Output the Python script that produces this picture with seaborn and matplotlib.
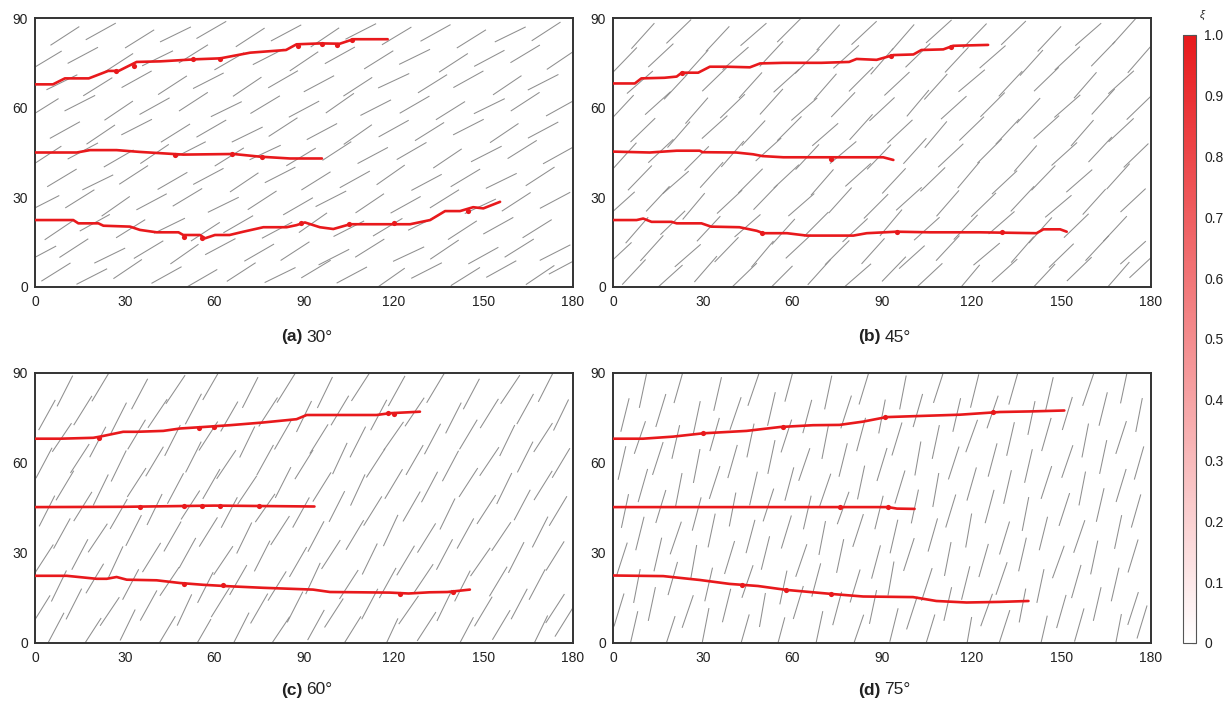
import numpy as np
import pandas as pd
import matplotlib
matplotlib.use("Agg")
import matplotlib.pyplot as plt
import seaborn as sns
from matplotlib.colors import LinearSegmentedColormap, Normalize
from matplotlib.cm import ScalarMappable
from matplotlib.collections import LineCollection

sns.set_theme(style="white")
plt.rcParams["font.family"] = ["Liberation Sans", "DejaVu Sans"]

# ---------------- data ----------------
PANEL_LABELS = ["(a)", "(b)", "(c)", "(d)"]
PANEL_ANGLES = [30, 45, 60, 75]
X_TICKS = [0, 30, 60, 90, 120, 150, 180]
Y_TICKS = [0, 30, 60, 90]
CBAR_TICKS = [0, 0.1, 0.2, 0.3, 0.4, 0.5, 0.6, 0.7, 0.8, 0.9, 1.0]
CBAR_LABELS = ["0", "0.1", "0.2", "0.3", "0.4", "0.5", "0.6", "0.7", "0.8", "0.9", "1.0"]
FRACTURE_LENGTH = 11.5

# natural fractures: centre x, centre y, angle deviation (deg)
FRACTURES = [
    (7, 5, 2), (19, 3.5, -3), (31, 6, 4), (44, 4, -1), (56, 3, 0), (69, 5, 3), (82, 4, -4), (94, 6, 1),
    (106, 4, -2), (119, 3, 5), (131, 5.5, -3), (144, 3.5, 2), (156, 6, -1), (169, 4, 4), (177, 7, -2),
    (2, 11, -2), (13, 13, 3), (25, 10.5, -4), (38, 12.5, 1), (50, 11, 5), (62, 13.5, -2), (75, 11.5, 0),
    (87, 12, 3), (100, 10, -3), (112, 13, 2), (125, 11, -5), (137, 12.5, 4), (150, 10.5, -1), (162, 13, 2),
    (174, 11.5, -3),
    (8, 19, 4), (20, 21.5, -1), (32, 19.5, 2), (45, 20.5, -4), (57, 18.5, 3), (68, 21, 0), (81, 19, -2),
    (93, 21.5, 5), (105, 19.5, -3), (118, 20, 1), (130, 21.5, -4), (143, 19, 3), (155, 20.5, -1),
    (168, 19.5, 2),
    (3, 28, -3), (15, 29.5, 2), (27, 27, 5), (39, 28.5, -2), (51, 30, 1), (63, 27.5, -4), (76, 29, 3),
    (88, 27, 0), (99, 29.5, -3), (112, 28, 4), (124, 27.5, -1), (137, 29.5, 2), (149, 27, -5),
    (161, 28.5, 3), (174, 29, -2),
    (9, 36.5, 1), (21, 35, -4), (33, 37.5, 3), (46, 35.5, 0), (58, 37, -2), (70, 35, 4), (82, 37.5, -3),
    (94, 35.5, 2), (107, 36, -1), (119, 37.5, 5), (131, 35, -2), (144, 36.5, 1), (156, 35.5, -4),
    (169, 37, 3),
    (4, 44, 3), (16, 45.5, -2), (28, 43, 0), (40, 44.5, 4), (52, 46, -3), (65, 43.5, 2), (77, 45, -5),
    (89, 43.5, 1), (101, 45.5, 3), (113, 44, -2), (126, 45.5, 0), (138, 43, 4), (151, 44.5, -3),
    (163, 46, 2), (175, 44, -1),
    (10, 52.5, -1), (22, 51, 4), (34, 53.5, -3), (47, 51.5, 2), (59, 53, 0), (71, 51, -4), (83, 53.5, 3),
    (96, 52, -2), (108, 51, 5), (120, 53, -1), (132, 52, 2), (145, 53.5, -3), (157, 51.5, 4),
    (170, 52.5, -2),
    (3, 60, 2), (15, 61.5, -3), (28, 59, 4), (40, 60.5, -1), (53, 62, 3), (64, 59.5, -4), (77, 61, 1),
    (90, 59.5, -2), (102, 61.5, 5), (114, 60, -3), (127, 61, 0), (139, 59, 2), (152, 60.5, -4),
    (164, 62, 3), (176, 60, -1),
    (9, 68.5, -4), (21, 67, 2), (34, 69.5, -1), (46, 67.5, 3), (58, 69, -3), (71, 67, 4), (83, 69.5, 0),
    (95, 68, -2), (108, 67, 3), (120, 69, -5), (133, 68, 2), (145, 69.5, -1), (158, 67.5, 4),
    (170, 68.5, -3),
    (4, 76, 1), (16, 77.5, -2), (28, 75, 3), (41, 76.5, -4), (53, 78, 2), (65, 75.5, 0), (78, 77, -3),
    (90, 75.5, 4), (102, 77.5, -1), (115, 76, 2), (127, 77, -4), (140, 75, 3), (152, 76.5, -2),
    (164, 78, 1), (176, 76, 4),
    (10, 84, 3), (22, 85.5, -1), (35, 83, 2), (47, 84.5, -4), (59, 86, 0), (72, 83.5, 3), (84, 85, -2),
    (97, 83.5, 4), (109, 85.5, -3), (121, 84, 1), (134, 85, -1), (146, 83, 2), (159, 84.5, -4),
    (171, 85.5, 3),
]

# crack paths (a) 30 deg
A_TOP_X = [0, 6, 10, 18, 24.5, 28, 34, 42, 54, 62, 72, 84, 87.5, 95.5, 102, 106.5, 118]
A_TOP_Y = [67.8, 67.8, 69.8, 69.8, 72.3, 72.3, 75.3, 75.5, 76.2, 76.5, 78.4, 79.3, 81.2, 81.5, 81.4, 82.9, 82.9]
A_MID_X = [0, 14, 18.4, 27.3, 35, 49.6, 66.4, 75.3, 85.3, 96]
A_MID_Y = [45.0, 45.0, 45.8, 45.8, 45.2, 44.3, 44.5, 43.6, 43.0, 43.0]
A_BOT_X = [0, 12.8, 14.5, 21.2, 22.9, 31.8, 35.1, 40.7, 48, 49.6, 55.2, 56.9, 60.2, 65.1, 69.7, 76.4,
           84.2, 87.5, 90.3, 95.3, 99.8, 105.4, 114.3, 125.5, 132.2, 137.2, 142.2, 146.6, 150, 155.6]
A_BOT_Y = [22.4, 22.4, 21.3, 21.3, 20.5, 20.2, 19.1, 18.3, 18.3, 17.4, 17.4, 16.3, 17.4, 17.4, 18.5, 20.0,
           20.0, 20.7, 21.6, 20.0, 19.4, 21.0, 21.0, 21.0, 22.4, 25.4, 25.4, 26.7, 26.3, 28.5]
# (b) 45 deg
B_TOP_X = [0, 7.3, 9.5, 17.2, 21.3, 23, 28.5, 32.4, 38, 45.8, 49.2, 57, 69.7, 79, 81.5, 88.2, 93.8,
           100.5, 103.2, 110.5, 113.8, 125.5]
B_TOP_Y = [68.1, 68.1, 69.8, 70.0, 70.4, 71.7, 71.7, 73.7, 73.7, 73.5, 74.8, 75.0, 75.0, 75.3, 76.3,
           76.0, 77.6, 77.8, 79.3, 79.5, 80.7, 81.0]
B_MID_X = [0, 12.3, 21.3, 29, 30, 41.2, 46.9, 50, 57, 90.4, 93.8]
B_MID_Y = [45.3, 45.0, 45.6, 45.6, 45.1, 45.0, 44.4, 43.8, 43.4, 43.4, 42.5]
B_BOT_X = [0, 7.9, 10.1, 12.9, 19.6, 21.3, 29.6, 32.8, 42.3, 48.1, 50.3, 58.2, 64.8, 80.4, 84.9,
           94.9, 106, 122.7, 141.7, 144, 149.6, 151.8]
B_BOT_Y = [22.4, 22.4, 22.9, 21.8, 21.8, 21.3, 21.3, 20.2, 20.0, 18.8, 18.0, 18.0, 17.2, 17.2, 18.0,
           18.5, 18.3, 18.3, 18.0, 19.3, 19.3, 18.5]
# (c) 60 deg
C_TOP_X = [0, 8.4, 19.5, 21.8, 29.5, 34, 42.9, 48.5, 56.3, 65.2, 76.3, 87.5, 90.9, 114.3, 118.7, 128.8]
C_TOP_Y = [68.1, 68.1, 68.4, 68.8, 70.4, 70.4, 70.7, 71.5, 72.0, 72.6, 73.5, 74.6, 76.0, 76.0, 76.6, 77.1]
C_MID_X = [0, 30, 60, 93.5]
C_MID_Y = [45.3, 45.4, 45.8, 45.5]
C_BOT_X = [0, 10.6, 20.6, 24, 27.3, 30.7, 40.7, 48.5, 56.3, 65.2, 76.3, 93, 98.7, 118.7, 125, 132, 138, 145.5]
C_BOT_Y = [22.4, 22.4, 21.4, 21.4, 22.0, 21.1, 20.9, 20.0, 19.4, 18.9, 18.4, 17.8, 17.0, 16.8, 16.5, 16.9, 17.0, 17.8]
# (d) 75 deg
D_TOP_X = [0, 10, 20.2, 30.2, 44.7, 55.9, 66.9, 75.8, 83.7, 91.5, 100.4, 116, 129.4, 140, 151]
D_TOP_Y = [68.1, 68.1, 68.8, 69.9, 70.7, 72.0, 72.6, 72.7, 73.8, 75.3, 75.6, 76.1, 77.0, 77.2, 77.5]
D_MID_X = [0, 60, 92, 95, 100.9]
D_MID_Y = [45.3, 45.3, 45.3, 44.8, 44.7]
D_BOT_X = [0, 16.8, 29.1, 39, 48.5, 58, 73.7, 83.7, 100.4, 108.2, 118.3, 129.4, 139]
D_BOT_Y = [22.5, 22.3, 21.0, 19.7, 19.0, 17.7, 16.3, 15.5, 15.3, 14.0, 13.5, 13.7, 14.0]

# damage blobs along the cracks
A_BLOBS = [(27, 72.3), (33, 74), (53, 76.2), (62, 76.3), (88, 80.5), (96, 81.3), (101, 81), (106, 82.5),
           (47, 44), (66, 44.5), (76, 43.5), (50, 16.8), (56, 16.5), (89, 21.5), (105, 21), (120, 21.5), (145, 25.5)]
B_BLOBS = [(23, 71.5), (93, 77.3), (113, 80.3), (73, 42.8), (50, 18.1), (95, 18.4), (130, 18.4)]
C_BLOBS = [(21.5, 68.5), (55, 71.8), (60, 72), (118, 76.8), (120, 76.5), (35, 45.4), (50, 45.6),
           (56, 45.7), (62, 45.7), (75, 45.7), (50, 19.8), (63, 19.3), (122, 16.5), (140, 17)]
D_BLOBS = [(30, 69.9), (57, 72), (91, 75.3), (127, 77), (76, 45.3), (92, 45.3), (43, 19.5), (58, 17.6), (73, 16.3)]

PATHS = [
    [(A_TOP_X, A_TOP_Y), (A_MID_X, A_MID_Y), (A_BOT_X, A_BOT_Y)],
    [(B_TOP_X, B_TOP_Y), (B_MID_X, B_MID_Y), (B_BOT_X, B_BOT_Y)],
    [(C_TOP_X, C_TOP_Y), (C_MID_X, C_MID_Y), (C_BOT_X, C_BOT_Y)],
    [(D_TOP_X, D_TOP_Y), (D_MID_X, D_MID_Y), (D_BOT_X, D_BOT_Y)],
]
BLOBS = [A_BLOBS, B_BLOBS, C_BLOBS, D_BLOBS]

# ---------------- style ----------------
RED = "#e8191c"
GRAY = "#8f8f8f"
TEXT = "#222222"
cmap = LinearSegmentedColormap.from_list("xi", ["#ffffff", RED])

W, H = 1225, 701
fig = plt.figure(figsize=(W / 100, H / 100), dpi=100)

AX_BOXES = [  # left, top, right, bottom in pixels
    (35, 18, 573, 287),
    (613, 18, 1151, 287),
    (35, 373, 573, 643),
    (613, 373, 1151, 643),
]
CAPTION_Y = [337, 337, 690, 690]

for i, (l, t, r, b) in enumerate(AX_BOXES):
    ax = fig.add_axes([l / W, 1 - b / H, (r - l) / W, (b - t) / H])
    ax.set_xlim(0, 180)
    ax.set_ylim(0, 90)
    # natural fractures
    segs = []
    for (cx, cy, d) in FRACTURES:
        th = np.radians(PANEL_ANGLES[i] + d)
        dx = FRACTURE_LENGTH / 2 * np.cos(th)
        dy = FRACTURE_LENGTH / 2 * np.sin(th)
        segs.append([(cx - dx, cy - dy), (cx + dx, cy + dy)])
    ax.add_collection(LineCollection(segs, colors=GRAY, linewidths=0.75, zorder=1))
    # crack paths
    for (px, py) in PATHS[i]:
        df = pd.DataFrame({"x": px, "y": py})
        sns.lineplot(data=df, x="x", y="y", sort=False, estimator=None, color=RED,
                     linewidth=1.9, ax=ax, zorder=3)
    bdf = pd.DataFrame(BLOBS[i], columns=["x", "y"])
    sns.scatterplot(data=bdf, x="x", y="y", color=RED, s=14, linewidth=0, ax=ax, zorder=4)
    ax.set_xlabel("")
    ax.set_ylabel("")
    ax.set_xticks(X_TICKS)
    ax.set_yticks(Y_TICKS)
    ax.set_xticklabels([str(v) for v in X_TICKS])
    ax.set_yticklabels([str(v) for v in Y_TICKS])
    ax.tick_params(direction="in", length=3, width=0.8, labelsize=10, colors="#444444",
                   labelcolor=TEXT, pad=5)
    ax.tick_params(axis="x", pad=6)
    for sp in ax.spines.values():
        sp.set_color("#333333")
        sp.set_linewidth(1.4)
        sp.set_visible(True)
    # caption
    cx = (l + r) / 2 / W
    cy = 1 - CAPTION_Y[i] / H
    fig.text(cx - 0.001, cy, PANEL_LABELS[i], ha="right", va="center", fontsize=12.5,
             fontweight="bold", color=TEXT)
    fig.text(cx + 0.002, cy, f"{PANEL_ANGLES[i]}°", ha="left", va="center", fontsize=12.5, color=TEXT)

# colorbar
cax = fig.add_axes([1183 / W, 1 - 643 / H, 13 / W, 608 / H])
sm = ScalarMappable(norm=Normalize(0, 1), cmap=cmap)
cb = fig.colorbar(sm, cax=cax, ticks=CBAR_TICKS)
cb.ax.set_yticklabels(CBAR_LABELS)
cb.ax.tick_params(direction="in", length=3, width=0.8, labelsize=10, labelcolor=TEXT, colors="#444444", pad=6)
cb.outline.set_edgecolor("#555555")
cb.outline.set_linewidth(0.8)
fig.text(1202 / W, 1 - 15 / H, "ξ", ha="center", va="center", fontsize=8, style="italic", color=TEXT)

fig.savefig("out.png", dpi=100)
